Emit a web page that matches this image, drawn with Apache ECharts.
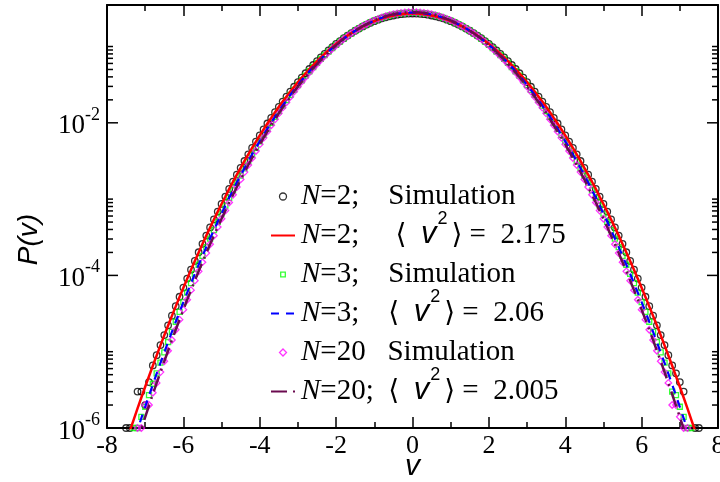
<!DOCTYPE html>
<html><head><meta charset="utf-8">
<script src="https://cdn.jsdelivr.net/npm/echarts@6.0.0/dist/echarts.min.js"></script>
<style>html,body{margin:0;padding:0;background:#fff}#c{width:720px;height:482px}</style>
</head><body><div id="c"></div>
<script>
// velocity grid (x values)
const vGrid = [-7.5,-7.4,-7.3,-7.2,-7.1,-7.0,-6.9,-6.8,-6.7,-6.6,-6.5,-6.4,-6.3,-6.2,-6.1,-6.0,-5.9,-5.8,-5.7,-5.6,
-5.5,-5.4,-5.3,-5.2,-5.1,-5.0,-4.9,-4.8,-4.7,-4.6,-4.5,-4.4,-4.3,-4.2,-4.1,-4.0,-3.9,-3.8,-3.7,-3.6,
-3.5,-3.4,-3.3,-3.2,-3.1,-3.0,-2.9,-2.8,-2.7,-2.6,-2.5,-2.4,-2.3,-2.2,-2.1,-2.0,-1.9,-1.8,-1.7,-1.6,
-1.5,-1.4,-1.3,-1.2,-1.1,-1.0,-0.9,-0.8,-0.7,-0.6,-0.5,-0.4,-0.3,-0.2,-0.1,0,0.1,0.2,0.3,0.4,
0.5,0.6,0.7,0.8,0.9,1.0,1.1,1.2,1.3,1.4,1.5,1.6,1.7,1.8,1.9,2.0,2.1,2.2,2.3,2.4,
2.5,2.6,2.7,2.8,2.9,3.0,3.1,3.2,3.3,3.4,3.5,3.6,3.7,3.8,3.9,4.0,4.1,4.2,4.3,4.4,
4.5,4.6,4.7,4.8,4.9,5.0,5.1,5.2,5.3,5.4,5.5,5.6,5.7,5.8,5.9,6.0,6.1,6.2,6.3,6.4,
6.5,6.6,6.7,6.8,6.9,7.0,7.1,7.2,7.3,7.4,7.5];

// N=2, <v^2>=2.175 curve
const theoryN2 = [6.55e-7,9.23e-7,1.29e-6,1.81e-6,2.51e-6,3.47e-6,4.77e-6,6.54e-6,8.92e-6,1.21e-5,
1.64e-5,2.20e-5,2.95e-5,3.93e-5,5.22e-5,6.89e-5,9.06e-5,1.19e-4,1.54e-4,2.00e-4,
2.58e-4,3.32e-4,4.24e-4,5.40e-4,6.85e-4,8.64e-4,1.08e-3,1.36e-3,1.69e-3,2.09e-3,
2.57e-3,3.16e-3,3.86e-3,4.69e-3,5.68e-3,6.84e-3,8.20e-3,9.79e-3,0.0116,0.0138,
0.0162,0.0190,0.0221,0.0257,0.0297,0.0342,0.0391,0.0446,0.0507,0.0572,
0.0643,0.0720,0.0802,0.0889,0.0982,0.108,0.118,0.1285,0.139,0.150,
0.161,0.172,0.1835,0.194,0.205,0.215,0.225,0.234,0.242,0.249,
0.255,0.261,0.265,0.268,0.270,0.2707,0.270,0.268,0.265,0.261,
0.255,0.249,0.242,0.234,0.225,0.215,0.205,0.194,0.1835,0.172,
0.161,0.150,0.139,0.1285,0.118,0.108,0.0982,0.0889,0.0802,0.0720,
0.0643,0.0572,0.0507,0.0446,0.0391,0.0342,0.0297,0.0257,0.0221,0.0190,
0.0162,0.0138,0.0116,9.79e-3,8.20e-3,6.84e-3,5.68e-3,4.69e-3,3.86e-3,3.16e-3,
2.57e-3,2.09e-3,1.69e-3,1.36e-3,1.08e-3,8.64e-4,6.85e-4,5.40e-4,4.24e-4,3.32e-4,
2.58e-4,2.00e-4,1.54e-4,1.19e-4,9.06e-5,6.89e-5,5.22e-5,3.93e-5,2.95e-5,2.20e-5,
1.64e-5,1.21e-5,8.92e-6,6.54e-6,4.77e-6,3.47e-6,2.51e-6,1.81e-6,1.29e-6,9.23e-7,6.55e-7];

// N=3, <v^2>=2.06 curve
const theoryN3 = [3.27e-7,4.69e-7,6.71e-7,9.54e-7,1.35e-6,1.90e-6,2.66e-6,3.71e-6,5.16e-6,7.12e-6,
9.78e-6,1.34e-5,1.82e-5,2.47e-5,3.33e-5,4.46e-5,5.95e-5,7.91e-5,1.05e-4,1.38e-4,
1.80e-4,2.35e-4,3.04e-4,3.92e-4,5.04e-4,6.44e-4,8.19e-4,1.04e-3,1.30e-3,1.64e-3,
2.04e-3,2.53e-3,3.13e-3,3.84e-3,4.70e-3,5.72e-3,6.93e-3,8.36e-3,0.0100,0.0120,
0.0142,0.0168,0.0198,0.0232,0.0270,0.0313,0.0361,0.0415,0.0474,0.0539,
0.0610,0.0687,0.0770,0.0859,0.0953,0.105,0.116,0.127,0.138,0.149,
0.161,0.173,0.1845,0.196,0.207,0.218,0.229,0.238,0.247,0.255,
0.262,0.2675,0.272,0.275,0.277,0.278,0.277,0.275,0.272,0.2675,
0.262,0.255,0.247,0.238,0.229,0.218,0.207,0.196,0.1845,0.173,
0.161,0.149,0.138,0.127,0.116,0.105,0.0953,0.0859,0.0770,0.0687,
0.0610,0.0539,0.0474,0.0415,0.0361,0.0313,0.0270,0.0232,0.0198,0.0168,
0.0142,0.0120,0.0100,8.36e-3,6.93e-3,5.72e-3,4.70e-3,3.84e-3,3.13e-3,2.53e-3,
2.04e-3,1.64e-3,1.30e-3,1.04e-3,8.19e-4,6.44e-4,5.04e-4,3.92e-4,3.04e-4,2.35e-4,
1.80e-4,1.38e-4,1.05e-4,7.91e-5,5.95e-5,4.46e-5,3.33e-5,2.47e-5,1.82e-5,1.34e-5,
9.78e-6,7.12e-6,5.16e-6,3.71e-6,2.66e-6,1.90e-6,1.35e-6,9.54e-7,6.71e-7,4.69e-7,3.27e-7];

// N=20, <v^2>=2.005 curve
const theoryN20 = [2.28e-7,3.31e-7,4.77e-7,6.85e-7,9.78e-7,1.39e-6,1.97e-6,2.77e-6,3.88e-6,5.40e-6,
7.48e-6,1.03e-5,1.42e-5,1.94e-5,2.63e-5,3.56e-5,4.79e-5,6.41e-5,8.54e-5,1.13e-4,
1.49e-4,1.96e-4,2.56e-4,3.32e-4,4.30e-4,5.53e-4,7.07e-4,9.01e-4,1.14e-3,1.44e-3,
1.81e-3,2.26e-3,2.80e-3,3.46e-3,4.26e-3,5.22e-3,6.35e-3,7.69e-3,9.28e-3,0.0111,
0.0133,0.0158,0.0186,0.0219,0.0257,0.0299,0.0346,0.0399,0.0458,0.0523,
0.0593,0.0670,0.0753,0.0843,0.0938,0.104,0.115,0.126,0.137,0.149,
0.161,0.173,0.185,0.197,0.2086,0.2196,0.2305,0.240,0.249,0.258,
0.265,0.271,0.276,0.279,0.281,0.282,0.281,0.279,0.276,0.271,
0.265,0.258,0.249,0.240,0.2305,0.2196,0.2086,0.197,0.185,0.173,
0.161,0.149,0.137,0.126,0.115,0.104,0.0938,0.0843,0.0753,0.0670,
0.0593,0.0523,0.0458,0.0399,0.0346,0.0299,0.0257,0.0219,0.0186,0.0158,
0.0133,0.0111,9.28e-3,7.69e-3,6.35e-3,5.22e-3,4.26e-3,3.46e-3,2.80e-3,2.26e-3,
1.81e-3,1.44e-3,1.14e-3,9.01e-4,7.07e-4,5.53e-4,4.30e-4,3.32e-4,2.56e-4,1.96e-4,
1.49e-4,1.13e-4,8.54e-5,6.41e-5,4.79e-5,3.56e-5,2.63e-5,1.94e-5,1.42e-5,1.03e-5,
7.48e-6,5.40e-6,3.88e-6,2.77e-6,1.97e-6,1.39e-6,9.78e-7,6.85e-7,4.77e-7,3.31e-7,2.28e-7];

// simulation histograms (null = no point drawn)
const simN2 = [1e-6,1e-6,null,3.0e-6,3.0e-6,2.0e-6,4.0e-6,6.6e-6,9.0e-6,1.22e-5,
1.65e-5,2.22e-5,2.97e-5,3.95e-5,5.25e-5,6.92e-5,9.1e-5,1.19e-4,1.55e-4,2.01e-4,
2.59e-4,3.33e-4,4.25e-4,5.41e-4,6.86e-4,8.65e-4,1.08e-3,1.36e-3,1.69e-3,2.09e-3,
2.57e-3,3.16e-3,3.86e-3,4.69e-3,5.68e-3,6.84e-3,8.20e-3,9.79e-3,0.0116,0.0138,
0.0162,0.0190,0.0221,0.0257,0.0297,0.0342,0.0391,0.0446,0.0507,0.0572,
0.0643,0.0720,0.0802,0.0889,0.0982,0.108,0.118,0.1285,0.139,0.150,
0.161,0.172,0.1835,0.194,0.205,0.215,0.225,0.234,0.242,0.249,
0.255,0.261,0.265,0.268,0.270,0.271,0.270,0.268,0.265,0.261,
0.255,0.249,0.242,0.234,0.225,0.215,0.205,0.194,0.1835,0.172,
0.161,0.150,0.139,0.1285,0.118,0.108,0.0982,0.0889,0.0802,0.0720,
0.0643,0.0572,0.0507,0.0446,0.0391,0.0342,0.0297,0.0257,0.0221,0.0190,
0.0162,0.0138,0.0116,9.79e-3,8.20e-3,6.84e-3,5.68e-3,4.69e-3,3.86e-3,3.16e-3,
2.57e-3,2.09e-3,1.69e-3,1.36e-3,1.08e-3,8.65e-4,6.86e-4,5.41e-4,4.25e-4,3.33e-4,
2.59e-4,2.01e-4,1.55e-4,1.19e-4,9.1e-5,6.92e-5,5.25e-5,3.95e-5,2.97e-5,2.22e-5,
1.65e-5,1.22e-5,9.0e-6,6.6e-6,5.2e-6,4.0e-6,3.0e-6,null,null,1e-6,1e-6];

const simN3 = [null,null,1e-6,1e-6,1.4e-6,1.9e-6,2.7e-6,3.8e-6,5.2e-6,7.2e-6,
9.8e-6,1.34e-5,1.82e-5,2.47e-5,3.33e-5,4.46e-5,5.95e-5,7.91e-5,1.05e-4,1.38e-4,
1.80e-4,2.35e-4,3.04e-4,3.92e-4,5.04e-4,6.44e-4,8.19e-4,1.04e-3,1.30e-3,1.64e-3,
2.04e-3,2.53e-3,3.13e-3,3.84e-3,4.70e-3,5.72e-3,6.93e-3,8.36e-3,0.0100,0.0120,
0.0142,0.0168,0.0198,0.0232,0.0270,0.0313,0.0361,0.0415,0.0474,0.0539,
0.0610,0.0687,0.0770,0.0859,0.0953,0.105,0.116,0.127,0.138,0.149,
0.161,0.173,0.1845,0.196,0.207,0.218,0.229,0.238,0.247,0.255,
0.262,0.2675,0.272,0.275,0.277,0.278,0.277,0.275,0.272,0.2675,
0.262,0.255,0.247,0.238,0.229,0.218,0.207,0.196,0.1845,0.173,
0.161,0.149,0.138,0.127,0.116,0.105,0.0953,0.0859,0.0770,0.0687,
0.0610,0.0539,0.0474,0.0415,0.0361,0.0313,0.0270,0.0232,0.0198,0.0168,
0.0142,0.0120,0.0100,8.36e-3,6.93e-3,5.72e-3,4.70e-3,3.84e-3,3.13e-3,2.53e-3,
2.04e-3,1.64e-3,1.30e-3,1.04e-3,8.19e-4,6.44e-4,5.04e-4,3.92e-4,3.04e-4,2.35e-4,
1.80e-4,1.38e-4,1.05e-4,7.91e-5,5.95e-5,4.46e-5,3.33e-5,2.47e-5,1.82e-5,1.34e-5,
9.8e-6,7.2e-6,5.2e-6,3.0e-6,2.7e-6,1.9e-6,1.4e-6,1e-6,1e-6,null,null];

const simN20 = [null,null,null,1e-6,1e-6,2.0e-6,2.0e-6,2.9e-6,3.9e-6,5.4e-6,
7.5e-6,1.03e-5,1.42e-5,1.94e-5,2.63e-5,3.56e-5,4.79e-5,6.41e-5,8.54e-5,1.13e-4,
1.49e-4,1.96e-4,2.56e-4,3.32e-4,4.30e-4,5.53e-4,7.07e-4,9.01e-4,1.14e-3,1.44e-3,
1.81e-3,2.26e-3,2.80e-3,3.46e-3,4.26e-3,5.22e-3,6.35e-3,7.69e-3,9.28e-3,0.0111,
0.0133,0.0158,0.0186,0.0219,0.0257,0.0299,0.0346,0.0399,0.0458,0.0523,
0.0593,0.0670,0.0753,0.0843,0.0938,0.104,0.115,0.126,0.137,0.149,
0.161,0.173,0.185,0.197,0.2086,0.2196,0.2305,0.240,0.249,0.258,
0.265,0.271,0.276,0.279,0.281,0.282,0.281,0.279,0.276,0.271,
0.265,0.258,0.249,0.240,0.2305,0.2196,0.2086,0.197,0.185,0.173,
0.161,0.149,0.137,0.126,0.115,0.104,0.0938,0.0843,0.0753,0.0670,
0.0593,0.0523,0.0458,0.0399,0.0346,0.0299,0.0257,0.0219,0.0186,0.0158,
0.0133,0.0111,9.28e-3,7.69e-3,6.35e-3,5.22e-3,4.26e-3,3.46e-3,2.80e-3,2.26e-3,
1.81e-3,1.44e-3,1.14e-3,9.01e-4,7.07e-4,5.53e-4,4.30e-4,3.32e-4,2.56e-4,1.96e-4,
1.49e-4,1.13e-4,8.54e-5,6.41e-5,4.79e-5,3.56e-5,2.63e-5,1.94e-5,1.42e-5,1.03e-5,
7.5e-6,5.4e-6,3.9e-6,2.0e-6,2.0e-6,1.4e-6,1e-6,1e-6,null,null,null];

// y-axis tick values (major: labelled decades; minor: 2..10 x each labelled decade)
const yMajorTicks = [1e-6, 1e-4, 1e-2];
const yMinorTicks = [2e-6,3e-6,4e-6,5e-6,6e-6,7e-6,8e-6,9e-6,1e-5,
                     2e-4,3e-4,4e-4,5e-4,6e-4,7e-4,8e-4,9e-4,1e-3,
                     2e-2,3e-2,4e-2,5e-2,6e-2,7e-2,8e-2,9e-2,1e-1];

const seriesNames = ['N=2; Simulation','N=2; <v2> = 2.175','N=3; Simulation','N=3; <v2> = 2.06','N=20 Simulation','N=20; <v2> = 2.005'];
const legendRich = {
  'N=2; Simulation': '{n|N}{t|=2;    Simulation}',
  'N=2; <v2> = 2.175': '{n|N}{t|=2;     }{b|\u27E8}{t|  }{v|v}{s|2}{b|\u27E9}{t| =  2.175}',
  'N=3; Simulation': '{n|N}{t|=3;    Simulation}',
  'N=3; <v2> = 2.06': '{n|N}{t|=3;    }{b|\u27E8}{t|  }{v|v}{s|2}{b|\u27E9}{t| =  2.06}',
  'N=20 Simulation': '{n|N}{t|=20   Simulation}',
  'N=20; <v2> = 2.005': '{n|N}{t|=20;  }{b|\u27E8}{t|  }{v|v}{s|2}{b|\u27E9}{t| =  2.005}'
};
const xTicks = {min: -8, max: 8, interval: 2};

const pairs = arr => vGrid.map((v, i) => [v, arr[i]]).filter(p => p[1] !== null);

const chart = echarts.init(document.getElementById('c'), null, {renderer: 'canvas'});
const tickLine = {color: '#000', width: 1.5};
const baseX = {
  type: 'value', min: xTicks.min, max: xTicks.max, interval: xTicks.interval,
  axisLine: {onZero: false, lineStyle: {color: '#000', width: 2}},
  axisTick: {inside: true, length: 11, lineStyle: tickLine},
  minorTick: {show: true, splitNumber: 2, length: 6, lineStyle: tickLine},
  splitLine: {show: false}
};
const baseY = {
  type: 'log', logBase: 10, min: 1e-6, max: 0.35,
  axisLine: {onZero: false, lineStyle: {color: '#000', width: 2}},
  axisTick: {show: false},
  minorTick: {show: false},
  splitLine: {show: false}
};
const serif = 'Liberation Serif';
const T = (extra) => Object.assign({fontFamily: serif, fontSize: 29, color: '#000', lineHeight: 40, verticalAlign: 'bottom'}, extra || {});

const tickData = yMajorTicks.map(v => [xTicks.min, v, 11]).concat(yMinorTicks.map(v => [xTicks.min, v, 6]));

chart.setOption({
  animation: false,
  backgroundColor: '#fff',
  grid: {left: 107, right: 2, top: 5, bottom: 54, containLabel: false, outerBoundsMode: 'none'},
  xAxis: [
    Object.assign({}, baseX, {
      position: 'bottom',
      name: 'v', nameLocation: 'middle', nameGap: 24, nameMoveOverlap: false,
      nameTextStyle: {fontFamily: 'Liberation Sans', fontStyle: 'italic', fontSize: 30, color: '#000', verticalAlign: 'top'},
      axisLabel: {margin: 5, fontFamily: serif, fontSize: 26, color: '#000'}
    }),
    Object.assign({}, baseX, {position: 'top', axisLabel: {show: false}})
  ],
  yAxis: [
    Object.assign({}, baseY, {
      position: 'left',
      name: 'P(v)', nameLocation: 'middle', nameGap: 64, nameRotate: 90, nameMoveOverlap: false,
      nameTextStyle: {fontFamily: 'Liberation Sans', fontStyle: 'italic', fontSize: 28, color: '#000', padding: [0, 46, 0, 0]},
      axisLabel: {
        margin: 7,
        formatter: function (val) {
          const l = Math.log10(val);
          const e = Math.round(l);
          if (Math.abs(l - e) > 1e-6) return '';
          return (e % 2 === 0) ? '{b|10}{s|' + e + '}' : '';
        },
        rich: {
          b: {fontFamily: serif, fontSize: 27, color: '#000', lineHeight: 34, verticalAlign: 'bottom'},
          s: {fontFamily: serif, fontSize: 18, color: '#000', lineHeight: 34, verticalAlign: 'top'}
        }
      }
    }),
    Object.assign({}, baseY, {position: 'right', axisLabel: {show: false}})
  ],
  legend: {
    orient: 'vertical', left: 265, top: 166, padding: 5,
    itemWidth: 24, itemHeight: 7, itemGap: -12,
    selectedMode: false,
    data: [
      {name: seriesNames[0], icon: 'circle'},
      {name: seriesNames[1], itemStyle: {opacity: 0}},
      {name: seriesNames[2], icon: 'path://M0,0M7,7M1.2,1.2L5.8,1.2L5.8,5.8L1.2,5.8Z'},
      {name: seriesNames[3], itemStyle: {opacity: 0}},
      {name: seriesNames[4], icon: 'path://M3.5,0L7,3.5L3.5,7L0,3.5Z'},
      {name: seriesNames[5], itemStyle: {opacity: 0}}
    ],
    formatter: name => legendRich[name],
    itemStyle: {borderWidth: 1.3},
    textStyle: Object.assign(T(), {
      padding: [0, 0, 11, 1],
      rich: {
        n: T({fontStyle: 'italic'}),
        t: T(),
        b: T({fontFamily: 'DejaVu Sans', fontSize: 28}),
        v: T({fontFamily: 'Liberation Sans', fontStyle: 'italic', fontSize: 31}),
        s: {fontFamily: 'Liberation Sans', fontSize: 18, color: '#000', lineHeight: 40, verticalAlign: 'top', padding: [0, 4, 0, 1]}
      }
    })
  },
  series: [
    {name: seriesNames[0], type: 'scatter', data: pairs(simN2), symbol: 'circle', symbolSize: 6.5, clip: false,
     itemStyle: {color: 'rgba(255,255,255,0)', borderColor: '#000', borderWidth: 1.3}},
    {name: seriesNames[1], type: 'line', data: pairs(theoryN2), symbol: 'none',
     itemStyle: {color: '#ff0000'}, lineStyle: {color: '#ff0000', width: 2.5}},
    {name: seriesNames[2], type: 'scatter', data: pairs(simN3), symbol: 'rect', symbolSize: 5, clip: false,
     itemStyle: {color: 'rgba(255,255,255,0)', borderColor: '#00ff00', borderWidth: 1.3}},
    {name: seriesNames[3], type: 'line', data: pairs(theoryN3), symbol: 'none',
     itemStyle: {color: '#0000ff'}, lineStyle: {color: '#0000ff', width: 2.2, type: [8, 7]}},
    {name: seriesNames[4], type: 'scatter', data: pairs(simN20), symbol: 'diamond', symbolSize: 6.5, clip: false,
     itemStyle: {color: 'rgba(255,255,255,0)', borderColor: '#ff00ff', borderWidth: 1.3}},
    {name: seriesNames[5], type: 'line', data: pairs(theoryN20), symbol: 'none',
     itemStyle: {color: '#6b0a4f'}, lineStyle: {color: '#6b0a4f', width: 2.5, type: [16, 6, 2, 6]}},
    {
      name: 'y ticks', type: 'custom', silent: true, z: 10, clip: false,
      data: tickData, encode: {x: 0, y: 1},
      renderItem: function (params, api) {
        const val = api.value(1);
        const len = api.value(2);
        const pL = api.coord([xTicks.min, val]);
        const pR = api.coord([xTicks.max, val]);
        const st = {stroke: '#000', lineWidth: 1.5};
        return {type: 'group', children: [
          {type: 'line', shape: {x1: pL[0], y1: pL[1], x2: pL[0] + len, y2: pL[1]}, style: st},
          {type: 'line', shape: {x1: pR[0] - len, y1: pR[1], x2: pR[0], y2: pR[1]}, style: st}
        ]};
      }
    }
  ]
});
</script>
</body></html>
